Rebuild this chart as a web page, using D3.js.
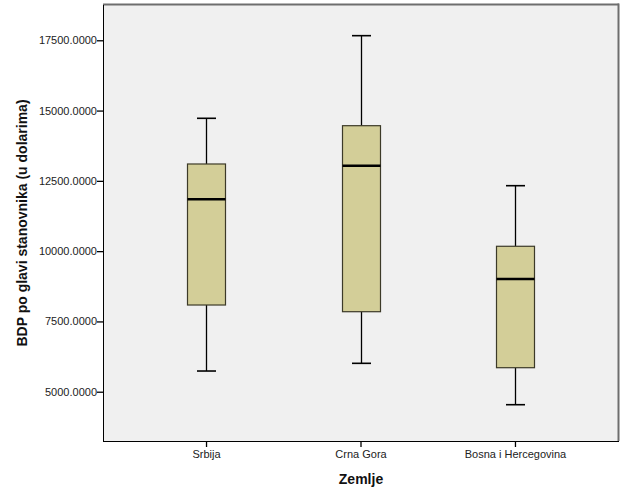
<!DOCTYPE html>
<html><head><meta charset="utf-8">
<script src="https://cdn.jsdelivr.net/npm/d3@7"></script>
<style>body{margin:0;background:#fff}svg{display:block}</style>
</head><body>
<script>
const categories = ["Srbija", "Crna Gora", "Bosna i Hercegovina"];
const whiskerLow = [5736, 6010, 4538];
const q1 = [8084, 7846, 5854];
const median = [11844, 13040, 9009];
const q3 = [13100, 14462, 10173];
const whiskerHigh = [14725, 17664, 12328];
const yTicks = [5000, 7500, 10000, 12500, 15000, 17500];

(function () {
const W = 626, H = 501;
const pL = 103, pR = 618, pT = 5, pB = 441;
const svg = d3.select("body").append("svg").attr("width", W).attr("height", H);

const y = d3.scaleLinear().domain([3247, 18755]).range([pB, pT]);
const x = d3.scalePoint().domain(categories).range([pL, pR]).padding(0.667);

svg.append("rect").attr("x", pL).attr("y", pT).attr("width", pR - pL).attr("height", pB - pT).attr("fill", "#f0f0f0");
svg.append("line").attr("x1", pL).attr("x2", pR + 1).attr("y1", pT - 0.5).attr("y2", pT - 0.5).attr("stroke", "#6e6e6e").attr("stroke-width", 2);
svg.append("line").attr("x1", pR + 0.5).attr("x2", pR + 0.5).attr("y1", pT - 1.5).attr("y2", pB).attr("stroke", "#6e6e6e").attr("stroke-width", 2);

const data = categories.map((c, i) => ({c, lo: whiskerLow[i], q1: q1[i], med: median[i], q3: q3[i], hi: whiskerHigh[i]}));
const boxW = 38, capW = 19;
const g = svg.append("g");
data.forEach(d => {
  const cx = Math.round(x(d.c)) + 0.5;
  g.append("line").attr("x1", cx).attr("x2", cx).attr("y1", y(d.hi)).attr("y2", y(d.q3)).attr("stroke", "#000").attr("stroke-width", 1.3);
  g.append("line").attr("x1", cx).attr("x2", cx).attr("y1", y(d.q1)).attr("y2", y(d.lo)).attr("stroke", "#000").attr("stroke-width", 1.3);
  g.append("line").attr("x1", cx - capW/2).attr("x2", cx + capW/2).attr("y1", y(d.hi)).attr("y2", y(d.hi)).attr("stroke", "#000").attr("stroke-width", 1.6);
  g.append("line").attr("x1", cx - capW/2).attr("x2", cx + capW/2).attr("y1", y(d.lo)).attr("y2", y(d.lo)).attr("stroke", "#000").attr("stroke-width", 1.6);
  g.append("rect").attr("x", cx - boxW/2).attr("y", y(d.q3)).attr("width", boxW).attr("height", y(d.q1) - y(d.q3))
    .attr("fill", "#d3ce98").attr("stroke", "#3c3a28").attr("stroke-width", 1.2);
  g.append("line").attr("x1", cx - boxW/2).attr("x2", cx + boxW/2).attr("y1", y(d.med)).attr("y2", y(d.med)).attr("stroke", "#000").attr("stroke-width", 2.5);
});

const yAxis = svg.append("g").attr("transform", `translate(${pL},0)`)
  .call(d3.axisLeft(y).tickValues(yTicks).tickFormat(d3.format(".4f")).tickSize(6).tickSizeOuter(0));
yAxis.select(".domain").attr("d", `M0.5,${pT}V${pB}`).attr("stroke", "#000");
yAxis.selectAll(".tick line").attr("stroke", "#000").attr("stroke-width", 1.3);
yAxis.selectAll(".tick text").attr("font-family", "Arial, 'Liberation Sans', sans-serif").attr("font-size", 11).attr("fill", "#222").attr("x", -6);

const xAxis = svg.append("g").attr("transform", `translate(0,${pB})`)
  .call(d3.axisBottom(x).tickSize(6).tickSizeOuter(0));
xAxis.select(".domain").attr("d", `M${pL},0.5H${pR + 1}`).attr("stroke", "#000");
xAxis.selectAll(".tick line").attr("stroke", "#000").attr("stroke-width", 1.3);
xAxis.selectAll(".tick text").attr("font-family", "Arial, 'Liberation Sans', sans-serif").attr("font-size", 11).attr("fill", "#222").attr("y", 9);

svg.append("text").attr("x", 361).attr("y", 484).attr("text-anchor", "middle")
  .attr("font-family", "Arial, 'Liberation Sans', sans-serif").attr("font-weight", "bold").attr("font-size", 14).attr("fill", "#111").text("Zemlje");
svg.append("text").attr("transform", `translate(27,${(pT + pB) / 2}) rotate(-90)`).attr("text-anchor", "middle")
  .attr("font-family", "Arial, 'Liberation Sans', sans-serif").attr("font-weight", "bold").attr("font-size", 14).attr("fill", "#111")
  .text("BDP po glavi stanovnika (u dolarima)");
})();
</script>
</body></html>
